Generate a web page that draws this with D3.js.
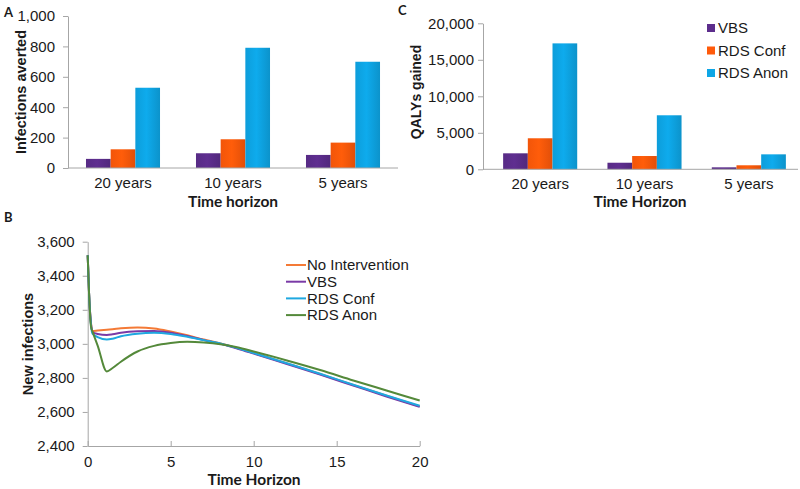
<!DOCTYPE html>
<html>
<head>
<meta charset="utf-8">
<script src="https://cdn.jsdelivr.net/npm/d3@7"></script>
<style>
  html, body { margin: 0; padding: 0; background: #fff; }
  svg { display: block; }
  text { font-family: "Liberation Sans", Arial, sans-serif; fill: #1a1a1a; }
  .bold { font-weight: bold; }
  .cal { font-family: Lato, "Liberation Sans", sans-serif; font-weight: bold; }
</style>
</head>
<body>
<svg id="chart" width="800" height="489"></svg>
<script>
// ---------- DATA ----------
const categories = ["20 years", "10 years", "5 years"];
const barSeries = ["VBS", "RDS Conf", "RDS Anon"];
const infectionsVBS = [60, 97, 86];
const infectionsConf = [123, 189, 167];
const infectionsAnon = [528, 791, 699];
const qalyVBS = [2190, 900, 270];
const qalyConf = [4250, 1820, 550];
const qalyAnon = [17250, 7400, 2050];
const infectionTicks = [0, 200, 400, 600, 800, 1000];
const qalyTicks = [0, 5000, 10000, 15000, 20000];

const lineSeries = ["No Intervention", "VBS", "RDS Conf", "RDS Anon"];
const timePoints = [0, 0.08, 0.2, 0.3, 0.6, 1.15, 1.5, 2, 3, 4, 5, 6, 7, 8, 9, 10, 12, 14, 16, 18, 20];
const noIntervention = [3520, 3300, 3120, 3075, 3078, 3083, 3086, 3091, 3096, 3090, 3072, 3050, 3025, 3002, 2975, 2946, 2885, 2823, 2758, 2695, 2633];
const vbsLine        = [3520, 3300, 3115, 3068, 3058, 3052, 3056, 3065, 3074, 3076, 3066, 3046, 3022, 3000, 2973, 2943, 2881, 2819, 2755, 2691, 2630];
const rdsConfLine    = [3520, 3300, 3110, 3058, 3040, 3025, 3030, 3045, 3060, 3065, 3058, 3042, 3022, 3002, 2975, 2946, 2886, 2824, 2760, 2697, 2636];
const rdsAnonLine    = [3520, 3300, 3100, 3070, 2990, 2838, 2858, 2895, 2955, 2988, 3005, 3012, 3008, 2998, 2980, 2955, 2902, 2846, 2785, 2726, 2667];
const lineTicksY = [2400, 2600, 2800, 3000, 3200, 3400, 3600];
const lineTicksX = [0, 5, 10, 15, 20];

// ---------- STYLE ----------
const barColors = ["#5c2d8c", "#ff5a0a", "#0ea6e6"];
const lineColors = ["#f47a36", "#7a3aa6", "#1fa8e0", "#54893a"];
const axisColor = "#a6a6a6";
const fmt = d3.format(",");

const svg = d3.select("#chart");
const defs = svg.append("defs");
barColors.forEach((c, i) => {
  const g = defs.append("linearGradient").attr("id", "bg" + i)
    .attr("x1", "0%").attr("x2", "100%").attr("y1", "0%").attr("y2", "0%");
  const col = d3.color(c);
  g.append("stop").attr("offset", "0%").attr("stop-color", col.darker(0.15));
  g.append("stop").attr("offset", "45%").attr("stop-color", col.brighter(0.08));
  g.append("stop").attr("offset", "100%").attr("stop-color", col.darker(0.35));
});

function styleAxis(g) {
  g.selectAll("path.domain").attr("stroke", axisColor).attr("stroke-width", 1);
  g.selectAll(".tick line").attr("stroke", axisColor);
  g.selectAll(".tick text").style("font-family", '"Liberation Sans", Arial, sans-serif')
    .style("font-size", "15px").attr("fill", "#1a1a1a");
}

function barPanel(opts) {
  const { x0, x1, yTop, yBot, axisX, axisEnd, domainMax, ticks, data, pad, labelPad } = opts;
  const xb = d3.scaleBand().domain(categories).range([x0, x1]).paddingInner(pad).paddingOuter(pad / 2);
  const xs = d3.scaleBand().domain(barSeries).range([0, xb.bandwidth()]);
  const y = d3.scaleLinear().domain([0, domainMax]).range([yBot, yTop]);

  const ya = svg.append("g").attr("transform", `translate(${axisX},0)`)
    .call(d3.axisLeft(y).tickValues(ticks).tickFormat(fmt).tickSizeInner(5).tickSizeOuter(0).tickPadding(labelPad));
  styleAxis(ya);

  barSeries.forEach((s, si) => {
    svg.append("g").selectAll("rect").data(categories).join("rect")
      .attr("x", c => xb(c) + xs(s))
      .attr("width", xs.bandwidth())
      .attr("y", (c, ci) => y(data[si][ci]))
      .attr("height", (c, ci) => yBot - y(data[si][ci]))
      .attr("fill", `url(#bg${si})`);
  });

  svg.append("line").attr("x1", axisX).attr("x2", axisEnd).attr("y1", yBot).attr("y2", yBot)
    .attr("stroke", axisColor);

  svg.append("g").selectAll("text").data(categories).join("text")
    .attr("x", c => xb(c) + xb.bandwidth() / 2)
    .attr("y", yBot + 20)
    .attr("text-anchor", "middle")
    .style("font-size", "15px")
    .text(c => c);
  return xb;
}

// Panel A
barPanel({ x0: 68, x1: 398, yTop: 16, yBot: 168, axisX: 68, axisEnd: 398, domainMax: 1000,
  ticks: infectionTicks, data: [infectionsVBS, infectionsConf, infectionsAnon], pad: 0.327, labelPad: 8 });
svg.append("text").attr("class", "bold").attr("transform", "translate(26,92) rotate(-90)")
  .attr("text-anchor", "middle").style("font-size", "14.5px").text("Infections averted");
svg.append("text").attr("class", "cal").attr("x", 233).attr("y", 206.5).attr("text-anchor", "middle")
  .style("font-size", "15.5px").text("Time horizon");
svg.append("text").attr("class", "cal").attr("x", 4).attr("y", 17).style("font-size", "13px").text("A");

// Panel C
barPanel({ x0: 488, x1: 801, yTop: 23.3, yBot: 169.3, axisX: 483, axisEnd: 798, domainMax: 20000,
  ticks: qalyTicks, data: [qalyVBS, qalyConf, qalyAnon], pad: 0.29, labelPad: 4 });
svg.append("text").attr("class", "bold").attr("transform", "translate(421,92) rotate(-90)")
  .attr("text-anchor", "middle").style("font-size", "14px").text("QALYs gained");
svg.append("text").attr("class", "cal").attr("x", 640).attr("y", 207).attr("text-anchor", "middle")
  .style("font-size", "15.5px").text("Time Horizon");
svg.append("text").attr("class", "cal").attr("x", 398).attr("y", 15).style("font-size", "13px").text("C");

// Legend C
const legC = svg.append("g");
barSeries.forEach((s, i) => {
  const cy = 28 + i * 22.5;
  legC.append("rect").attr("x", 707).attr("y", cy - 4).attr("width", 8).attr("height", 8).attr("fill", barColors[i]);
  legC.append("text").attr("x", 718).attr("y", cy + 5.3).style("font-size", "15px").text(s);
});

// Panel B
const xL = d3.scaleLinear().domain([0, 20]).range([87.7, 419.7]);
const yL = d3.scaleLinear().domain([2400, 3600]).range([446, 241.7]);
const yaB = svg.append("g").attr("transform", "translate(87.7,0)")
  .call(d3.axisLeft(yL).tickValues(lineTicksY).tickFormat(fmt).tickSizeInner(5).tickSizeOuter(0).tickPadding(8));
styleAxis(yaB);
const xaB = svg.append("g").attr("transform", "translate(0,446)")
  .call(d3.axisBottom(xL).tickValues(lineTicksX).tickFormat(d3.format("d")).tickSizeInner(-5).tickSizeOuter(0).tickPadding(10));
styleAxis(xaB);

const lineData = [noIntervention, vbsLine, rdsConfLine, rdsAnonLine];
const lineGen = d3.line().x((d, i) => xL(timePoints[i])).y(d => yL(d)).curve(d3.curveMonotoneX);
lineData.forEach((arr, i) => {
  svg.append("path").datum(arr).attr("d", lineGen).attr("fill", "none")
    .attr("stroke", lineColors[i]).attr("stroke-width", 2).attr("stroke-linejoin", "round");
});

svg.append("text").attr("class", "bold").attr("transform", "translate(33,344) rotate(-90)")
  .attr("text-anchor", "middle").style("font-size", "14.5px").text("New infections");
svg.append("text").attr("class", "cal").attr("x", 254).attr("y", 485).attr("text-anchor", "middle")
  .style("font-size", "15.5px").text("Time Horizon");
svg.append("text").attr("class", "cal").attr("x", 4).attr("y", 222).style("font-size", "13px").text("B");

// Legend B
const legB = svg.append("g");
lineSeries.forEach((s, i) => {
  const cy = 265 + i * 16.7;
  legB.append("line").attr("x1", 286).attr("x2", 306).attr("y1", cy).attr("y2", cy)
    .attr("stroke", lineColors[i]).attr("stroke-width", 2);
  legB.append("text").attr("x", 307).attr("y", cy + 5.3).style("font-size", "15px").text(s);
});
</script>
</body>
</html>
